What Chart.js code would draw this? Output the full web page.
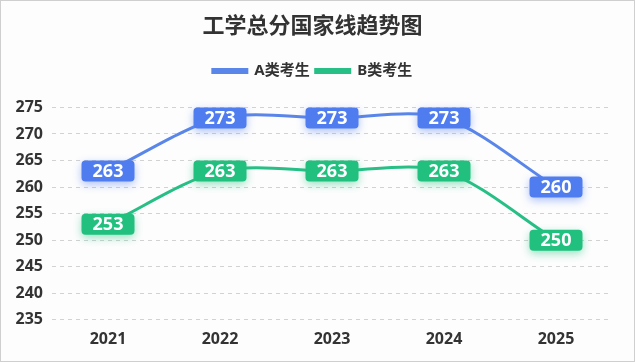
<!DOCTYPE html>
<html>
<head>
<meta charset="utf-8">
<script src="https://cdn.jsdelivr.net/npm/chart.js@4/dist/chart.umd.min.js"></script>
<style>
  html, body { margin: 0; padding: 0; background: #fff; }
  #wrap { width: 635px; height: 362px; box-sizing: border-box; border: 1px solid #cfcfcf; background: #fdfdfd; }
</style>
</head>
<body>
<div id="wrap"><canvas id="scoreChart" width="633" height="360"></canvas></div>
<script>
const years = ["2021", "2022", "2023", "2024", "2025"];
const scoresA = [263, 273, 273, 273, 260];
const scoresB = [253, 263, 263, 263, 250];
const blue = "#4f7df0";
const green = "#22c07f";
const font = "'Noto Sans', 'Noto Sans CJK SC', sans-serif";

// rounded value boxes on top of each point
const valueBoxes = {
    id: "valueBoxes",
    afterDatasetsDraw(chart) {
        const ctx = chart.ctx;
        chart.data.datasets.forEach(function(ds, i) {
            const meta = chart.getDatasetMeta(i);
            meta.data.forEach(function(pt, j) {
                const w = 53, h = 21;
                ctx.save();
                ctx.shadowColor = ds.shadow;
                ctx.shadowBlur = 8;
                ctx.shadowOffsetY = 3;
                ctx.fillStyle = ds.boxColor;
                ctx.beginPath();
                ctx.roundRect(pt.x - w / 2, pt.y - h / 2, w, h, 4);
                ctx.fill();
                ctx.restore();
                ctx.save();
                ctx.fillStyle = "#fff";
                ctx.font = "bold 18px " + font;
                ctx.textAlign = "center";
                ctx.textBaseline = "middle";
                ctx.fillText(ds.data[j], pt.x, pt.y + 1);
                ctx.restore();
            });
        });
    }
};

// extra room under the legend
const legendGap = {
    id: "legendGap",
    beforeInit(chart) {
        const fit = chart.legend.fit;
        chart.legend.fit = function() {
            fit.bind(chart.legend)();
            this.height += 19;
        };
    }
};

new Chart(document.getElementById("scoreChart").getContext("2d"), {
    type: "line",
    data: {
        labels: years,
        datasets: [{
            label: "A类考生",
            data: scoresA,
            borderColor: "#5a86ea",
            backgroundColor: "#5a86ea",
            boxColor: blue,
            shadow: "rgba(79,125,240,0.45)",
            borderWidth: 3,
            tension: 0.3,
            pointRadius: 0
        }, {
            label: "B类考生",
            data: scoresB,
            borderColor: "#27bf86",
            backgroundColor: "#27bf86",
            boxColor: green,
            shadow: "rgba(34,192,127,0.45)",
            borderWidth: 3,
            tension: 0.3,
            pointRadius: 0
        }]
    },
    options: {
        responsive: false,
        animation: false,
        layout: { padding: { left: 12, right: 22, bottom: 2 } },
        plugins: {
            title: {
                display: true,
                text: "工学总分国家线趋势图",
                color: "#333",
                font: { family: font, size: 22, weight: "bold" },
                padding: { top: 13, bottom: 17 }
            },
            legend: {
                position: "top",
                labels: {
                    boxWidth: 34,
                    boxHeight: 3,
                    color: "#333",
                    font: { family: font, size: 15, weight: "bold" },
                    padding: 6
                }
            },
            tooltip: { enabled: false }
        },
        scales: {
            x: {
                offset: true,
                grid: { display: false, drawTicks: false },
                border: { display: false },
                ticks: { color: "#333", padding: 10, font: { family: font, size: 16, weight: "bold" } }
            },
            y: {
                min: 235,
                max: 275,
                afterFit(axis) { axis.width = 39; },
                grid: { color: "#d2d2d2", drawTicks: false },
                border: { display: false, dash: [4, 4] },
                ticks: { stepSize: 5, color: "#333", padding: 9, font: { family: font, size: 16, weight: "bold" } }
            }
        }
    },
    plugins: [valueBoxes, legendGap]
});
</script>
</body>
</html>
